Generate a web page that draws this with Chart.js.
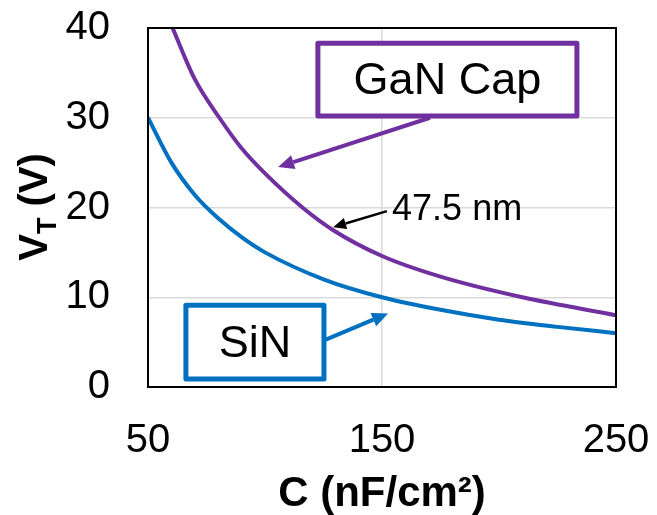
<!DOCTYPE html>
<html lang="en">
<head>
    <meta charset="UTF-8">
    <title>VT vs C</title>
    <script src="https://cdn.jsdelivr.net/npm/chart.js"></script>
    <style>
        /* plain white page, canvas fills the window */
        body { margin: 0; background: #ffffff; }
        #wrap { width: 657px; height: 515px; }
    </style>
</head>
<body>
    <div id="wrap"><canvas id="vt-chart"></canvas></div>

    <script>
        // values
        const sinC = [50, 60, 70, 80, 90, 100, 125, 150, 175, 200, 225, 250];
        const sinV = [30, 25, 21.4, 18.8, 16.7, 15, 12, 10, 8.6, 7.5, 6.7, 6];

        const ganC = [60.5, 70, 80.5, 90, 100, 116, 129, 150, 175, 210, 250];
        const ganV = [40, 34.3, 30, 26.6, 23.8, 20, 17.5, 14.6, 12.3, 10, 8.0];

        const xTicks = [50, 150, 250];
        const yTicks = [0, 10, 20, 30, 40];

        const purple = '#7030a0';
        const blue = '#0070c0';

        // draws an arrow between two pixel points
        function arrow(ctx, sx, sy, ex, ey, color, width, head) {
            const ang = Math.atan2(ey - sy, ex - sx);
            const bx = ex - head * Math.cos(ang);
            const by = ey - head * Math.sin(ang);
            ctx.strokeStyle = color;
            ctx.fillStyle = color;
            ctx.lineWidth = width;
            ctx.beginPath();
            ctx.moveTo(sx, sy);
            ctx.lineTo(bx, by);
            ctx.stroke();
            ctx.beginPath();
            ctx.moveTo(ex, ey);
            ctx.lineTo(bx + head * 0.45 * Math.sin(ang), by - head * 0.45 * Math.cos(ang));
            ctx.lineTo(bx - head * 0.45 * Math.sin(ang), by + head * 0.45 * Math.cos(ang));
            ctx.closePath();
            ctx.fill();
        }

        function labelBox(ctx, x1, y1, x2, y2, color, text) {
            ctx.strokeStyle = color;
            ctx.lineWidth = 5;
            ctx.lineJoin = 'round';
            ctx.fillStyle = '#ffffff';
            ctx.beginPath();
            ctx.rect(x1, y1, x2 - x1, y2 - y1);
            ctx.fill();
            ctx.stroke();
            ctx.fillStyle = '#000000';
            ctx.font = '45px "Liberation Sans", Arial, sans-serif';
            ctx.textAlign = 'center';
            ctx.textBaseline = 'middle';
            ctx.fillText(text, (x1 + x2) / 2, (y1 + y2) / 2 + 2);
        }

        const extras = {
            id: 'extras',
            afterDatasetsDraw(chart) {
                const ctx = chart.ctx;
                const xs = chart.scales.x;
                const ys = chart.scales.y;
                const px = v => xs.getPixelForValue(v);
                const py = v => ys.getPixelForValue(v);
                const area = chart.chartArea;

                ctx.save();
                // frame round the plot
                ctx.strokeStyle = '#000000';
                ctx.lineWidth = 2;
                ctx.strokeRect(area.left, area.top, area.right - area.left, area.bottom - area.top);

                // GaN Cap label and arrow
                arrow(ctx, px(170.5), py(30.0), px(105.6), py(24.5), purple, 4, 16);
                labelBox(ctx, px(122.6), py(38.3), px(233.3), py(30.2), purple, 'GaN Cap');

                // SiN label and arrow
                arrow(ctx, px(125.2), py(5.2), px(152.6), py(8.2), blue, 4, 16);
                labelBox(ctx, px(66.2), py(9.1), px(125.2), py(0.9), blue, 'SiN');

                // thickness note
                arrow(ctx, px(152.1), py(19.6), px(129.1), py(17.8), '#000000', 2.5, 13);
                ctx.fillStyle = '#000000';
                ctx.font = '36px "Liberation Sans", Arial, sans-serif';
                ctx.textAlign = 'left';
                ctx.textBaseline = 'alphabetic';
                ctx.fillText('47.5 nm', px(154.3), py(18.6));

                // y axis title with subscript T
                ctx.translate(47, 207);
                ctx.rotate(-Math.PI / 2);
                ctx.textBaseline = 'alphabetic';
                ctx.textAlign = 'left';
                const big = 'bold 40px "Liberation Sans", Arial, sans-serif';
                const small = 'bold 27px "Liberation Sans", Arial, sans-serif';
                ctx.font = big;
                const wV = ctx.measureText('V').width;
                const wRest = ctx.measureText(' (V)').width;
                ctx.font = small;
                const wT = ctx.measureText('T').width;
                let x0 = -(wV + wT + wRest) / 2;
                ctx.font = big;
                ctx.fillText('V', x0, 0);
                ctx.font = small;
                ctx.fillText('T', x0 + wV, 9);
                ctx.font = big;
                ctx.fillText(' (V)', x0 + wV + wT, 0);
                ctx.restore();
            }
        };

        const ctx = document.getElementById('vt-chart').getContext('2d');
        const myChart = new Chart(ctx, {
            type: 'scatter',
            data: {
                datasets: [{
                    label: 'GaN Cap',
                    data: ganC.map((c, i) => ({ x: c, y: ganV[i] })),
                    showLine: true,
                    borderColor: purple,
                    borderWidth: 4,
                    pointRadius: 0,
                    cubicInterpolationMode: 'monotone',
                }, {
                    label: 'SiN',
                    data: sinC.map((c, i) => ({ x: c, y: sinV[i] })),
                    showLine: true,
                    borderColor: blue,
                    borderWidth: 4,
                    pointRadius: 0,
                    cubicInterpolationMode: 'monotone',
                }],
            },
            options: {
                responsive: true,
                maintainAspectRatio: false,
                animation: false,
                layout: { padding: { top: 28, right: 41, bottom: 0, left: 0 } },
                plugins: {
                    legend: { display: false },
                    tooltip: { enabled: false },
                },
                scales: {
                    x: {
                        type: 'linear',
                        min: 50,
                        max: 250,
                        afterBuildTicks: s => { s.ticks = xTicks.map(v => ({ value: v })); },
                        afterFit: s => {
                            s.height = 128;
                            s.paddingLeft = 0;
                            s.paddingRight = 0;
                        },
                        grid: { color: '#d9d9d9', lineWidth: 1.5, drawTicks: false },
                        border: { display: false },
                        ticks: {
                            color: '#000000',
                            padding: 30,
                            maxRotation: 0,
                            font: { family: '"Liberation Sans", Arial, sans-serif', size: 40 },
                        },
                        title: {
                            display: true,
                            text: 'C (nF/cm²)',
                            color: '#000000',
                            padding: 0,
                            font: { family: '"Liberation Sans", Arial, sans-serif', size: 42, weight: 'bold', lineHeight: 1 },
                        },
                    },
                    y: {
                        min: 0,
                        max: 40,
                        afterBuildTicks: s => { s.ticks = yTicks.map(v => ({ value: v })); },
                        afterFit: s => {
                            s.width = 148;
                            s.paddingTop = 0;
                            s.paddingBottom = 0;
                        },
                        grid: { color: '#d9d9d9', lineWidth: 1.5, drawTicks: false },
                        border: { display: false },
                        ticks: {
                            color: '#000000',
                            padding: 38,
                            font: { family: '"Liberation Sans", Arial, sans-serif', size: 40 },
                        },
                    },
                },
            },
            plugins: [extras],
        });
    </script>
</body>
</html>
